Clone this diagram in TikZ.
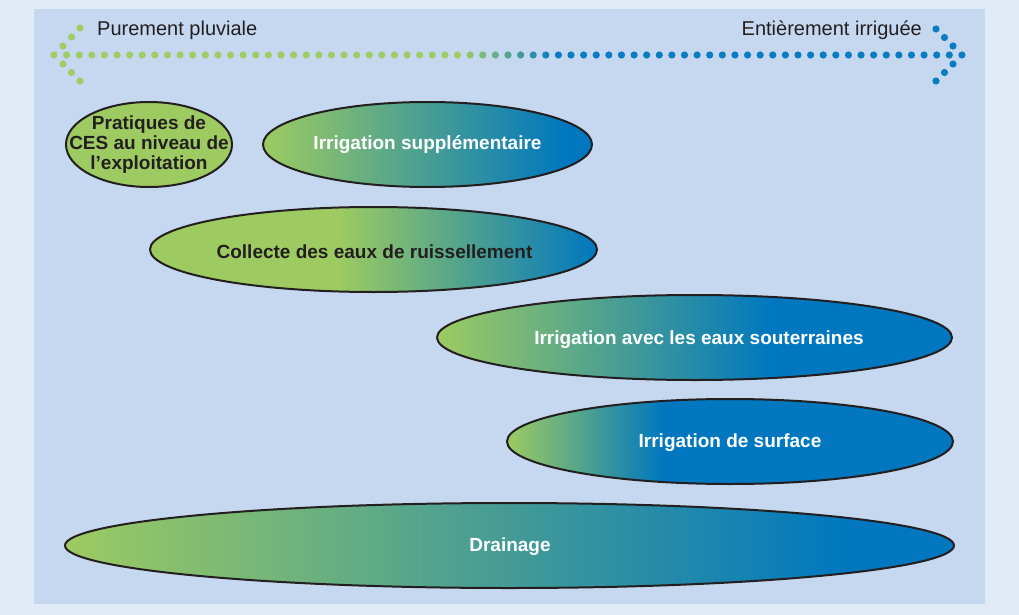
\documentclass[tikz,border=0pt]{standalone}
\usepackage{fontspec}
\setmainfont{Liberation Sans}
\usetikzlibrary{shapes.geometric}
\definecolor{fond}{HTML}{E1EAF7}
\definecolor{cadre}{HTML}{C6D8EF}
\definecolor{vert}{HTML}{9DCB61}
\definecolor{bleu}{HTML}{0077BF}
\definecolor{encre}{HTML}{231F20}
\definecolor{pointvert}{HTML}{9ECD66}
\definecolor{pointbleu}{HTML}{0A7CC2}
% 25bp = bord gauche, 75bp = bord droit
\pgfdeclarehorizontalshading{pointilles}{100bp}{color(0bp)=(pointvert); color(47.4bp)=(pointvert); color(52.5bp)=(pointbleu); color(100bp)=(pointbleu)}
\pgfdeclarehorizontalshading{supp}{100bp}{color(0bp)=(vert); color(25bp)=(vert); color(71bp)=(bleu); color(100bp)=(bleu)}
\pgfdeclarehorizontalshading{coll}{100bp}{color(0bp)=(vert); color(46bp)=(vert); color(75bp)=(bleu); color(100bp)=(bleu)}
\pgfdeclarehorizontalshading{sout}{100bp}{color(0bp)=(vert); color(25bp)=(vert); color(57.5bp)=(bleu); color(100bp)=(bleu)}
\pgfdeclarehorizontalshading{surf}{100bp}{color(0bp)=(vert); color(25bp)=(vert); color(42.5bp)=(bleu); color(100bp)=(bleu)}
\pgfdeclarehorizontalshading{drain}{100bp}{color(0bp)=(vert); color(25bp)=(vert); color(69bp)=(bleu); color(100bp)=(bleu)}

\begin{document}
\begin{tikzpicture}[x=1pt, y=-1pt,
  bord/.style={draw=encre, line width=2pt},
  etiq/.style={font=\fontsize{19}{20}\selectfont\bfseries, align=center, inner sep=0},
  blanc/.style={etiq, text=white},
  noir/.style={etiq, text=encre},
  titre/.style={font=\fontsize{20}{21}\selectfont, text=encre, inner sep=0}]
\fill[fond] (0,0) rectangle (1019,615);
\fill[cadre] (34,9) rectangle (985,604);
% fleche en pointilles
\shade[shading=pointilles] \foreach \i in {0,...,72} {(54+12.61*\i,55) circle[radius=3.6pt]}
  \foreach \x/\y in {80/28,71.5/37,63/46,63/64,71.5/72.5,80/81} {(\x,\y) circle[radius=3.6pt]}
  \foreach \x/\y in {936/29,944.5/37.5,953/46,953/64,944.5/72.5,936/81} {(\x,\y) circle[radius=3.6pt]};
\node[titre, anchor=west] (pluvial) at (97,30) {Purement pluviale};
\node[titre, anchor=east] (irrigue) at (922,30) {Entièrement irriguée};
% ellipses
\filldraw[bord, fill=vert] (149,144.5) ellipse (83 and 42.5);
\node[noir] (ces) at (149,144.5) {Pratiques de\\CES au niveau de\\l’exploitation};
\shadedraw[bord, shading=supp] (427.5,144.5) ellipse (164.5 and 42.5);
\node[blanc] (supp) at (427.5,145) {Irrigation supplémentaire};
\shadedraw[bord, shading=coll] (373.5,249.5) ellipse (223.5 and 42.5);
\node[noir] (coll) at (374.5,252) {Collecte des eaux de ruissellement};
\shadedraw[bord, shading=sout] (694.5,337.5) ellipse (257.5 and 42.5);
\node[blanc] (sout) at (699,339.5) {Irrigation avec les eaux souterraines};
\shadedraw[bord, shading=surf] (730,441.5) ellipse (223 and 42.5);
\node[blanc] (surf) at (730,442.5) {Irrigation de surface};
\shadedraw[bord, shading=drain] (509.5,545.5) ellipse (444.5 and 42.5);
\node[blanc] (drain) at (510,546.5) {Drainage};
\end{tikzpicture}
\end{document}
